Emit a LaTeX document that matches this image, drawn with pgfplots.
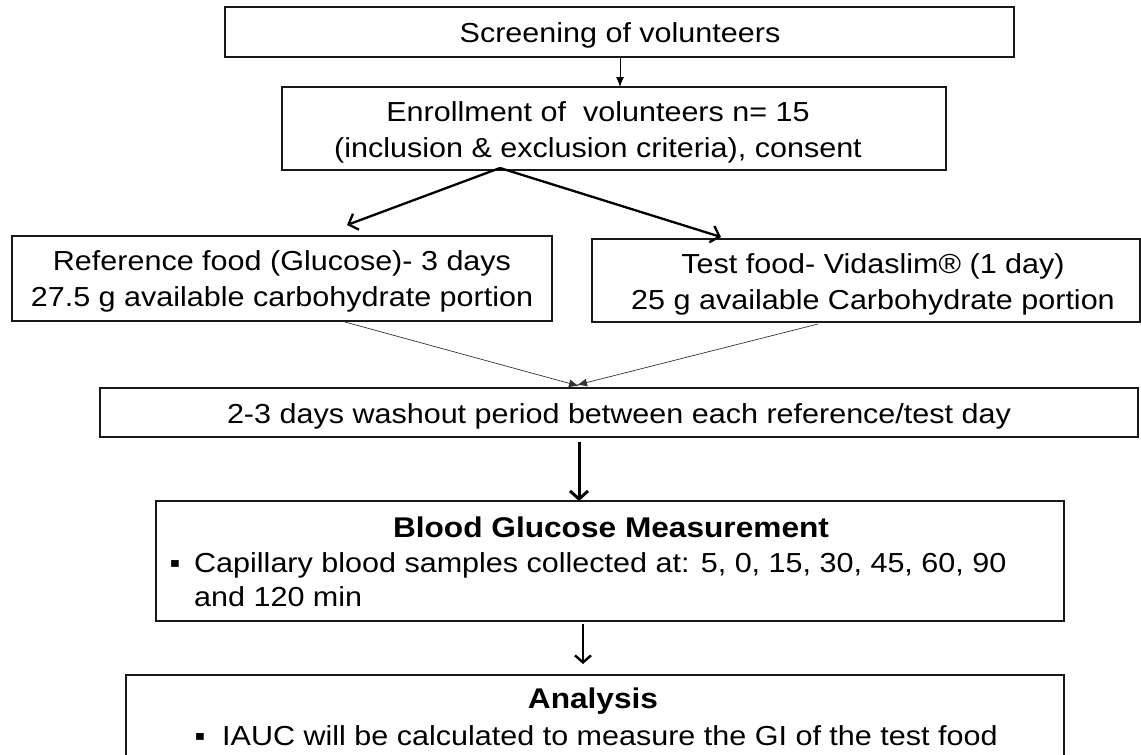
\documentclass[border=0pt]{standalone}
\usepackage{fontspec}
\setmainfont{Liberation Sans}[FakeStretch=1.11]
\usepackage{pgfplots}
\pgfplotsset{compat=1.18}
\usetikzlibrary{arrows.meta}
\tikzset{t/.style={font=\fontsize{27.5pt}{35pt}\selectfont, inner sep=0pt}}

\begin{document}
\fontsize{27.5pt}{35pt}\selectfont
\begin{tikzpicture}
\begin{axis}[
  width=1141pt, height=755pt, scale only axis,
  xmin=0, xmax=1141, ymin=0, ymax=755, y dir=reverse,
  hide axis, clip=true,
  box/.style={black!90, line width=1.5pt, mark=none},
]
% boxes
\addplot[box] coordinates {(225,7) (1014,7) (1014,57) (225,57)} --cycle;
\addplot[box] coordinates {(282,87) (946,87) (946,170) (282,170)} --cycle;
\addplot[box] coordinates {(12,236) (552,236) (552,321) (12,321)} --cycle;
\addplot[box] coordinates {(592,239) (1140,239) (1140,322) (592,322)} --cycle;
\addplot[box] coordinates {(100,388) (1138,388) (1138,437) (100,437)} --cycle;
\addplot[box] coordinates {(156,501) (1064,501) (1064,621) (156,621)} --cycle;
\addplot[box] coordinates {(126,675) (1064,675) (1064,780) (126,780)} --cycle;

% arrows
\addplot[black, line width=0.8pt, mark=none, -{Latex[length=10pt,width=8pt]}] coordinates {(620,57) (620,87)};
\addplot[black, line width=2.3pt, mark=none, -{Straight Barb[length=8pt,width=17pt]}] coordinates {(500,168) (347,225)};
\addplot[black, line width=2.3pt, mark=none, -{Straight Barb[length=8pt,width=17pt]}] coordinates {(500,168) (721,237)};
\addplot[black!80, line width=0.7pt, mark=none, -{Latex[length=10pt,width=8pt]}] coordinates {(345,322) (579,386)};
\addplot[black!80, line width=0.7pt, mark=none, -{Latex[length=10pt,width=8pt]}] coordinates {(818,324) (577,385)};
\addplot[black, line width=3pt, mark=none, -{Straight Barb[length=8pt,width=18pt]}] coordinates {(579,442) (579,501)};
\addplot[black, line width=2.4pt, mark=none, -{Straight Barb[length=7pt,width=16pt]}] coordinates {(583,624) (583,664)};

% texts
\node[t, anchor=base] at (620,42) {Screening of volunteers};
\node[t, anchor=base] at (598,121) {Enrollment of\ \ volunteers n= 15};
\node[t, anchor=base] at (598,157) {(inclusion \& exclusion criteria), consent};
\node[t, anchor=base] at (282,270) {Reference food (Glucose)- 3 days};
\node[t, anchor=base] at (282,306) {27.5 g available carbohydrate portion};
\node[t, anchor=base] at (873,273) {Test food- Vidaslim® (1 day)};
\node[t, anchor=base] at (873,309) {25 g available Carbohydrate portion};
\node[t, anchor=base] at (619,423) {2-3 days washout period between each reference/test day};
\node[t, anchor=base] at (611,537) {\fontsize{28.5pt}{35pt}\selectfont\bfseries Blood Glucose Measurement};
\node[t, anchor=base] at (175,572) {▪};
\node[t, anchor=base west] at (194,572) {Capillary blood samples collected at: 5, 0, 15, 30, 45, 60, 90};
\node[t, anchor=base west] at (194,606) {and 120 min};
\node[t, anchor=base] at (593,708) {\fontsize{28.5pt}{35pt}\selectfont\bfseries Analysis};
\node[t, anchor=base] at (200,745) {▪};
\node[t, anchor=base west] at (222,745) {IAUC will be calculated to measure the GI of the test food};
\end{axis}
\pgfresetboundingbox
\useasboundingbox (current axis.south west) rectangle (current axis.north east);
\end{tikzpicture}
\end{document}
